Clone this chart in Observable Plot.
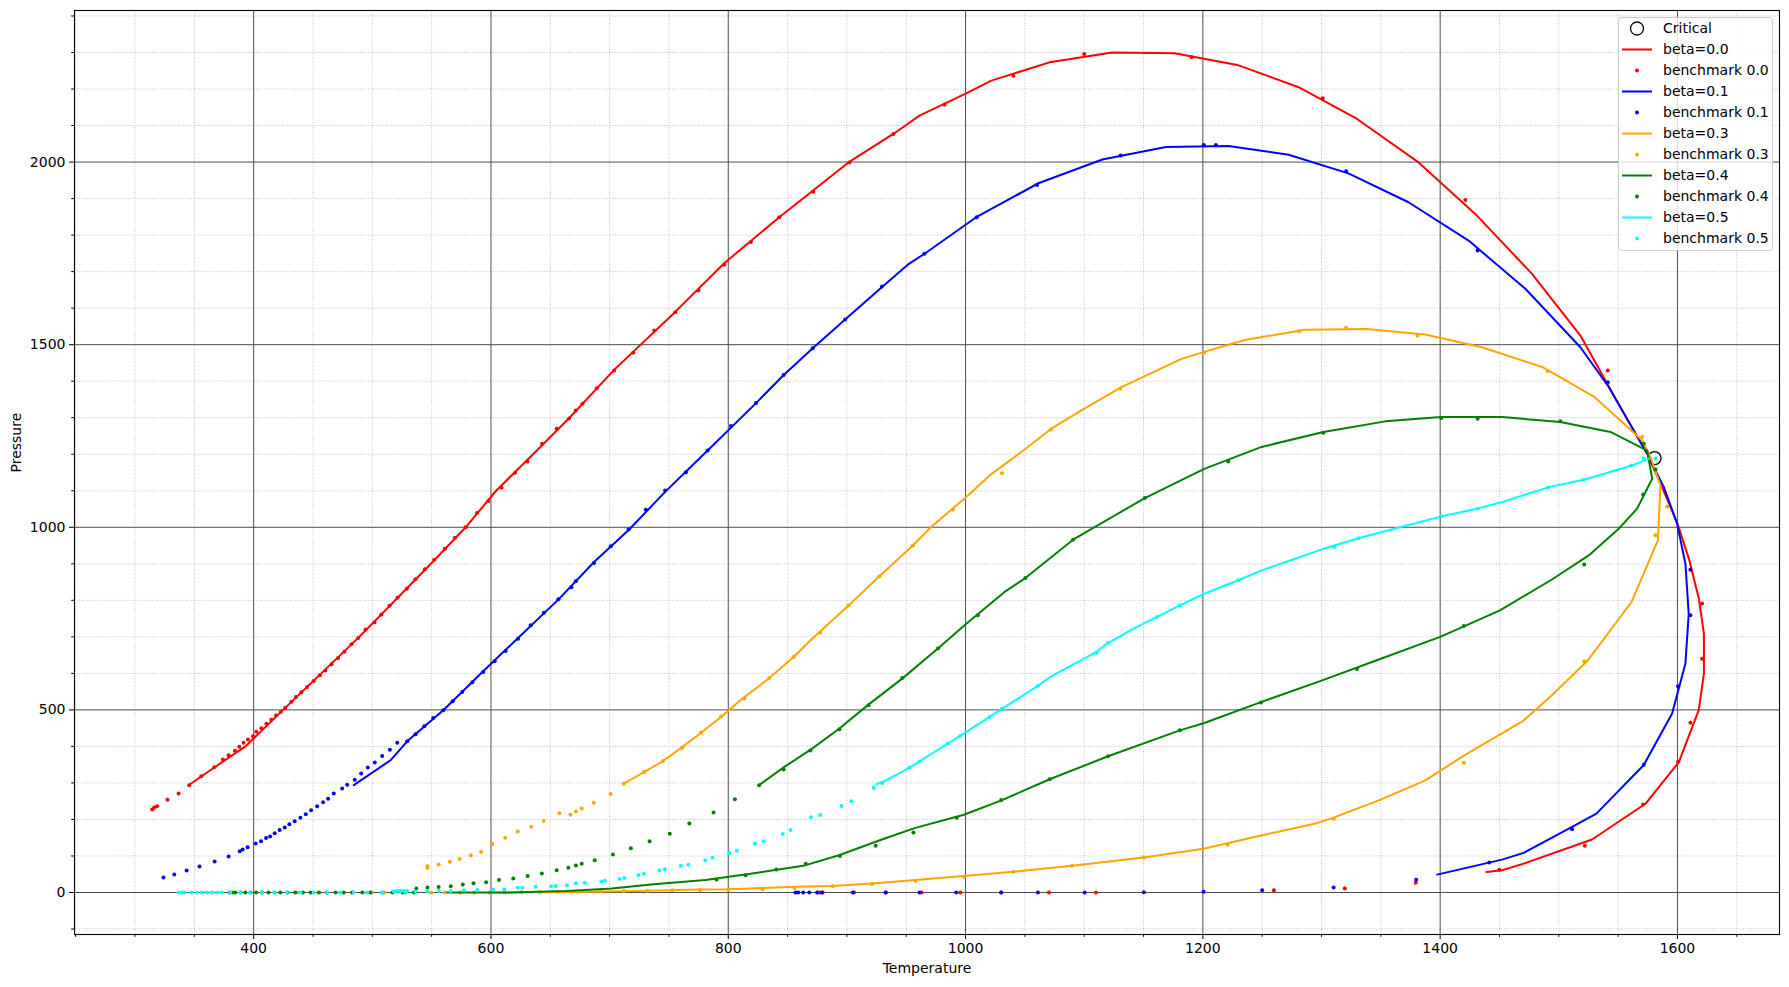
<!DOCTYPE html>
<html>
<head>
<meta charset="utf-8">
<script src="https://cdn.jsdelivr.net/npm/d3@7"></script>
<script src="https://cdn.jsdelivr.net/npm/@observablehq/plot@0.6"></script>
<style>
  html, body { margin: 0; padding: 0; background: white; }
  #chart { position: relative; width: 1789px; height: 987px; }
</style>
</head>
<body>
<div id="chart"></div>
<script>
// ---- ticks ----
const xMajor = [400, 600, 800, 1000, 1200, 1400, 1600];
const xMinor = [250, 300, 350, 450, 500, 550, 650, 700, 750, 850, 900, 950, 1050, 1100, 1150, 1250, 1300, 1350, 1450, 1500, 1550, 1650];
const yMajor = [0, 500, 1000, 1500, 2000];
const yMinor = [-100, 100, 200, 300, 400, 600, 700, 800, 900, 1100, 1200, 1300, 1400, 1600, 1700, 1800, 1900, 2100, 2200, 2300, 2400];

// ---- critical point ----
const critical = [[1580.7, 1189.5]];

// ---- beta = 0.0 ----
const beta00Line = [[345.8,295],[368,345],[393,400],[424.8,500],[457,600],[489,700],[519.3,800],[549.4,900],[578.7,1000],[604.3,1100],[635.5,1200],[666.2,1300],[703.8,1431],[754.4,1587],[796.6,1723],[843,1849],[901.3,1999],[940.1,2079],[961.2,2127],[1000.9,2189],[1021.7,2223],[1070.8,2273],[1123.5,2300],[1176.3,2298],[1229,2266],[1280.7,2205],[1330,2118],[1381.8,1999],[1429.6,1858],[1477.4,1694],[1518.2,1525],[1553.4,1320],[1574.5,1201],[1587,1110],[1600,1010],[1610,910],[1618,805],[1622.3,709],[1622.3,599],[1618,500],[1601.2,357],[1573,243],[1528,145],[1470.4,79],[1452.1,61],[1439,56]];
const bench00 = [[314.5,227],[316.2,233],[318.7,236],[327.4,254],[336.7,271],[345.7,294],[355.8,318],[366.8,343],[374.1,364],[378.9,376],[384.2,388],[387.9,399],[391.5,410],[395.2,419],[399.5,428],[402.3,440],[406.5,450],[410.7,462],[414.9,473],[418.9,485],[422.8,494],[426.7,506],[431.8,522],[435.7,535],[440.2,548],[445,563],[450.6,579],[455.7,595],[460.5,608],[465.6,625],[471.2,642],[476.5,659],[482.4,680],[488.1,697],[494.2,720],[501.8,739],[507.7,761],[514.5,785],[521.3,807],[529.1,832],[536.4,858],[544.3,885],[552.2,911],[561.2,941],[569.6,971],[578.6,1000],[588.2,1039],[597.8,1072],[609,1108],[620.3,1149],[630.7,1180],[643.1,1229],[655.4,1270],[665.8,1298],[671.5,1320],[677.1,1338],[689.2,1381],[703.8,1429],[719.8,1478],[737.6,1539],[755.3,1589],[775,1648],[796.6,1719],[819.1,1781],[843,1849],[871.7,1919],[902.1,1999],[939.2,2077],[982.3,2157],[1040.3,2236],[1100,2296],[1190.6,2287],[1301,2175],[1421.2,1896],[1541.3,1429],[1620.8,791],[1620.8,640],[1610.9,465],[1600.5,358],[1571,241],[1521.9,128],[1449.9,62],[875.2,0],[877.4,0],[879.5,0],[906,0],[933,0],[962.9,0],[995.6,0],[1030,0],[1070.3,0],[1109.9,0],[1259.9,6],[1319.6,11],[1379.4,27]];

// ---- beta = 0.1 ----
const beta01Line = [[484.4,294],[515.3,362],[529.4,414],[559.8,499],[594.1,608],[622.2,695],[657.4,804],[686.9,905],[716.5,994],[747.4,1099],[782.6,1210],[823.4,1340],[846.7,1417],[871.2,1490],[898.5,1569],[929.4,1657],[951.3,1719],[965.4,1749],[1009,1849],[1061.4,1942],[1115.3,2007],[1168.8,2041],[1221.5,2044],[1272.3,2020],[1322.7,1969],[1373.3,1890],[1424,1785],[1471.8,1653],[1518.2,1493],[1542.1,1384],[1574.5,1201],[1588.5,1110],[1599.7,1010],[1606.7,900],[1609.5,763],[1606.7,627],[1595.5,490],[1571.6,349],[1531.7,216],[1511.2,180],[1470.4,108.5],[1452.1,90],[1397.4,49]];
const bench01 = [[324,41],[333.1,49],[343.5,60],[354.4,71],[367.1,85],[378.9,98.5],[388.2,113],[390.7,118],[394.9,124],[401.7,134],[406.2,140],[410.5,149],[413.9,153],[417.7,162],[421.9,171],[426.2,178],[430.1,187],[434.6,195],[439.4,205],[443.9,214],[448.4,225],[453.5,236],[458.5,247],[462.7,257],[467.5,271],[474.6,285],[478.8,295],[485.2,309],[490.6,326],[496.2,342],[502.1,356],[508.3,374],[514.8,391],[521,410],[529.4,414],[536.4,433],[543.8,455],[551.3,478],[559.8,499],[567.7,524],[575.8,549],[584.3,576],[593.5,604],[603.1,633],[612.4,661],[622.8,695],[633.5,732],[644.7,766],[656.8,803],[667.8,836],[671.5,852],[686.9,902],[701,948],[716,994],[730.5,1048],[746.8,1101],[764.3,1151],[782.6,1210],[802.3,1277],[823.4,1340],[846.7,1417],[871.2,1490],[898.5,1569],[929.5,1659],[965.3,1749],[1009.4,1849],[1060.3,1937],[1130.7,2018],[1200.8,2047],[1211,2047],[1320.7,1975],[1431.6,1758],[1541.3,1397],[1610.9,884],[1610.9,759],[1600.5,565],[1571.6,350],[1511.2,173],[1441.3,82],[856.7,0],[858.9,0],[863.2,0],[868.3,0],[875,0],[879,0],[905,0],[932.6,0],[961.2,0],[992.1,0],[1030,0],[1061,0],[1100.4,0],[1150.3,1],[1200.6,2],[1250,6],[1310.2,14],[1379.8,35]];

// ---- beta = 0.3 ----
const beta03Line = [[712,298],[728.3,328],[745.2,360],[760.3,396],[777.3,438],[794.2,481],[810.7,528],[834.6,587],[855.1,645],[869.8,692],[900.7,784],[927.4,866],[955.6,950],[971,1001],[1000.6,1083],[1020.3,1142],[1049.8,1213],[1072.3,1270],[1097.6,1320],[1131.4,1384],[1182,1461],[1201.7,1481],[1235.5,1513],[1286.1,1541],[1338.2,1543],[1387.4,1528],[1435.2,1493],[1485.9,1439],[1529.5,1358],[1570.3,1238],[1577.3,1192],[1585.7,1115],[1583.5,964],[1561.2,795],[1524.6,636],[1494.2,540],[1470,470],[1420,375],[1387.5,307],[1348.8,253],[1310.2,205],[1295.1,189],[1250,157],[1200.6,120],[1150.3,96],[1089.7,73],[1040.3,57],[998.6,45],[957.7,34],[921.2,24.5],[888.1,18],[855.9,15.5],[828.8,12.5],[800.9,9],[777.2,8],[720,4],[650,1],[600,0]];
const bench03 = [[546.5,67],[546.5,72],[555.9,77],[565.3,84],[573.6,92],[583,101],[591.7,111],[601.1,133],[612,150],[622.6,167],[633.9,180],[644.4,196],[657.6,217],[667,213],[671.6,222],[676.5,230],[686.6,246],[700.9,270],[711.9,298],[728.8,330],[745,360],[761.2,396],[777,438],[794,482],[813.5,531],[834.6,587],[855.1,645],[877.4,711],[901.3,786],[927.4,866],[955.6,950],[989.3,1048],[1030.7,1148],[1071.7,1268],[1130.5,1379],[1200.9,1478],[1281.1,1537],[1320.7,1546],[1380.9,1525],[1490.6,1428],[1570.2,1247],[1591.3,1057],[1581.4,978],[1521.5,633],[1420,355],[1310.2,202],[1220.8,131],[1150.3,96],[1089.7,73],[1040.3,57],[998.6,43],[957.7,32],[921.2,23],[888.1,17],[855.9,12.5],[828.8,9],[800,8],[437,0],[483,0],[499,0],[510,0],[528,0],[550,0],[561,0],[574,0],[586,0],[599,0],[612,0],[626,1],[641,1],[656.5,2],[673.4,2],[692,3],[712,4],[732,5],[753,6],[776,7]];

// ---- beta = 0.4 ----
const beta04Line = [[826,294],[847.3,344],[869.8,392],[893.7,449],[917.6,513],[947.1,587],[976.7,668],[1000.6,736],[1032.9,823],[1050.4,861],[1090.6,966],[1151.1,1080],[1201.2,1160],[1249.5,1220],[1301.6,1261],[1353.7,1290],[1400.9,1302],[1452.1,1302],[1501.3,1288],[1543.5,1261],[1574.5,1210],[1578.7,1133],[1566,1051],[1550.5,996],[1525.2,923],[1494.2,857],[1450,772],[1400,700],[1350,640],[1300,580],[1249.5,522],[1201.2,464],[1180.6,444],[1120.1,373],[1070.9,310],[1030.8,253],[998.6,213],[957.7,177],[927.7,143],[893.3,102],[863.2,73],[820.2,52],[780.8,34],[739.4,23],[701.7,11],[664,4],[615,0.3],[563,0]];
const bench04 = [[537.1,11],[546.5,14],[555.9,15],[566.1,17],[576.3,22],[585.3,25.5],[595.9,28],[606.8,34],[618.8,38],[630.9,45],[642.9,52],[655.4,61],[665.2,68],[671.6,74],[676.5,79],[687.4,88],[702.8,104],[717.9,121],[733.7,140],[750.7,161],[767.2,189],[787.6,219],[805.6,255],[826,294],[846.7,337],[869.2,389],[893.7,447],[918.2,513],[946.6,587],[976.7,668],[1010.4,759],[1050.4,861],[1090.6,966],[1151.1,1080],[1221.4,1180],[1301.6,1259],[1400.9,1299],[1431.6,1297],[1501.3,1290],[1571.6,1229],[1581.5,1158],[1571.1,1090],[1521.5,898],[1420,730],[1330,612],[1249,520],[1180.6,444],[1120.1,373],[1070.9,310],[1030,253],[992.5,205],[956,164],[924.2,128],[894.1,100],[865.3,79],[840.4,63],[814.6,47],[790.1,35.5],[379.7,0],[382,0],[384.5,0],[389,0],[393,0],[397,0],[402,0],[407,0],[412.5,0],[417.5,0],[422.5,0],[428.5,0],[435,0],[441.5,0],[448,0],[455,0],[461.5,0],[469,0],[476,0],[483,0],[491.5,0],[498.5,0],[508.5,0],[517,0],[525.5,0],[535,0]];

// ---- beta = 0.5 ----
const beta05Line = [[925,297],[933,307],[952.8,342],[961.2,359],[985.1,408],[995,428],[1020.3,481],[1030.7,503],[1061,566],[1071,590],[1110.3,659],[1120.1,683],[1141.2,722],[1161,754],[1180.6,786],[1201.2,818],[1229.8,855],[1249.5,882],[1273.5,909],[1301.6,941],[1331.2,970],[1401.5,1030],[1431.3,1051],[1452.1,1069],[1491.5,1110],[1521,1130],[1561.8,1169],[1575.9,1188]];
const bench05 = [[337,0],[339.5,0],[341.8,0],[347.4,0],[352.2,0],[356.4,0],[360.6,0],[364.8,0],[369.1,0],[373.3,0],[380.3,0],[388.7,0],[396.6,0],[407,0],[417.4,0],[428.1,0],[439.4,0],[450.6,0],[461.9,0],[473.1,0],[484.4,0],[495.6,0],[508.3,0],[518.1,3],[521,4],[523.8,4],[526.6,4],[529.4,4],[536.4,3],[546.3,4],[556.1,4],[566,4],[577.2,6],[588.5,7],[601.9,8],[611.3,8],[622.6,13],[626.4,13],[637.7,15.5],[650.8,17],[654.6,18],[664,20],[671.6,25],[679.1,27],[693,30],[696,32],[708.5,37],[712.3,40],[724.3,48],[728.8,51],[742,60],[746.5,64],[760,73],[766.5,76],[780.7,88],[786.7,95],[800.9,108],[807.3,114],[822.3,134],[829.7,140],[846,160],[852.5,171],[869.7,206],[877.5,212],[895.5,237],[903.7,250],[922.6,286],[929.8,300],[952.8,342],[961.2,359],[985.1,408],[995,428],[1020.3,481],[1030.7,503],[1061,566],[1110.3,656],[1120.1,683],[1161,754],[1180.6,786],[1229.8,855],[1310.9,946],[1331.2,970],[1401.5,1030],[1431.6,1051],[1491,1108],[1521,1130],[1561,1169],[1571.6,1188],[1581.5,1188]];

const seriesNames = ["0.0", "0.1", "0.3", "0.4", "0.5"];
const seriesColors = ["red", "blue", "orange", "green", "cyan"];
const seriesLines = [beta00Line, beta01Line, beta03Line, beta04Line, beta05Line];
const seriesBench = [bench00, bench01, bench03, bench04, bench05];

const X = d => d[0], Y = d => d[1];
const font = "DejaVu Sans, sans-serif";
const plain = d => String(d);

const marks = [
  Plot.ruleX(xMinor, {stroke: "#b0b0b0", strokeWidth: 0.8, strokeDasharray: "1,1.6"}),
  Plot.ruleY(yMinor, {stroke: "#b0b0b0", strokeWidth: 0.8, strokeDasharray: "1,1.6"}),
  Plot.ruleX(xMajor, {stroke: "#4d4d4d", strokeWidth: 1}),
  Plot.ruleY(yMajor, {stroke: "#4d4d4d", strokeWidth: 1}),
  Plot.dot(critical, {x: X, y: Y, r: 6.5, stroke: "black", fill: "none", strokeWidth: 1.3})
];
seriesLines.forEach((ln, i) => {
  marks.push(Plot.line(ln, {x: X, y: Y, stroke: seriesColors[i], strokeWidth: 2}));
  marks.push(Plot.dot(seriesBench[i], {x: X, y: Y, r: 2, fill: seriesColors[i], stroke: "none"}));
});
marks.push(
  Plot.frame({stroke: "black", strokeWidth: 1.1}),
  Plot.axisX(xMajor, {tickSize: 5, tickPadding: 4, fontSize: 14, tickFormat: plain, label: null}),
  Plot.axisX(xMinor, {tickSize: 2.8, tickFormat: () => "", label: null}),
  Plot.axisY(yMajor, {tickSize: 5, tickPadding: 4, fontSize: 14, tickFormat: plain, label: null}),
  Plot.axisY(yMinor, {tickSize: 2.8, tickFormat: () => "", label: null}),
  Plot.text(["Temperature"], {text: d => d, frameAnchor: "bottom", dy: 38, fontSize: 14, fill: "black"}),
  Plot.text(["Pressure"], {text: d => d, frameAnchor: "left", dx: -58, rotate: -90, fontSize: 14, fill: "black"})
);

const chart = Plot.plot({
  width: 1789,
  height: 987,
  marginLeft: 74,
  marginRight: 10,
  marginTop: 10,
  marginBottom: 53,
  style: {fontFamily: font, fontSize: "14px", color: "black", background: "white"},
  x: {domain: [249, 1686]},
  y: {domain: [-115, 2415]},
  marks
});
document.getElementById("chart").appendChild(chart);

// ---- legend ----
const svg = d3.select(chart);
const lg = svg.append("g").attr("font-family", font).attr("font-size", 14).attr("text-anchor", "start");
lg.append("rect").attr("x", 1618.5).attr("y", 17.5).attr("width", 154).attr("height", 233)
  .attr("rx", 3).attr("fill", "white").attr("fill-opacity", 0.8).attr("stroke", "#cccccc");
const legendItems = [{label: "Critical", kind: "circle", color: "black"}];
seriesNames.forEach((n, i) => {
  legendItems.push({label: "beta=" + n, kind: "line", color: seriesColors[i]});
  legendItems.push({label: "benchmark " + n, kind: "dot", color: seriesColors[i]});
});
legendItems.forEach((it, i) => {
  const cy = 28.5 + 21 * i;
  if (it.kind === "circle") {
    lg.append("circle").attr("cx", 1637).attr("cy", cy).attr("r", 6.5).attr("fill", "none").attr("stroke", "black").attr("stroke-width", 1.3);
  } else if (it.kind === "line") {
    lg.append("line").attr("x1", 1622).attr("x2", 1652).attr("y1", cy).attr("y2", cy).attr("stroke", it.color).attr("stroke-width", 2);
  } else {
    lg.append("circle").attr("cx", 1637).attr("cy", cy).attr("r", 2).attr("fill", it.color);
  }
  lg.append("text").attr("x", 1663).attr("y", cy).attr("dy", "0.35em").attr("text-anchor", "start").attr("fill", "black").text(it.label);
});
</script>
</body>
</html>
